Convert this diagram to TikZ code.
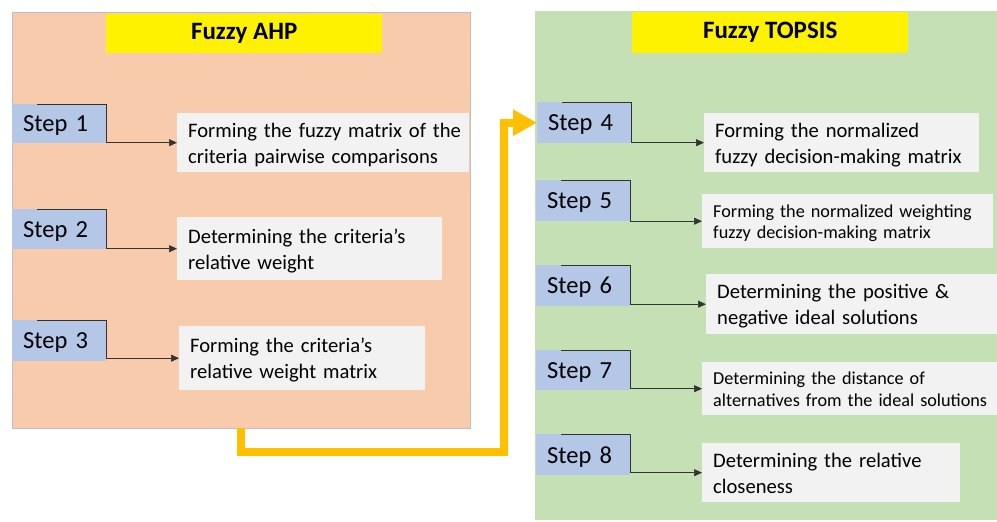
\documentclass[tikz,border=0pt]{standalone}
\usepackage{fontspec}
\setmainfont{Carlito}
\usetikzlibrary{arrows.meta}
\definecolor{ahpfill}{HTML}{F8CBAD}
\definecolor{topsisfill}{HTML}{C5E0B4}
\definecolor{stepblue}{HTML}{B4C7E7}
\definecolor{boxgray}{HTML}{F2F2F2}
\definecolor{flowyellow}{HTML}{FFC000}
\hyphenpenalty=10000
\begin{document}
\begin{tikzpicture}[x=1pt,y=-1pt,
  panel/.style={anchor=north west,inner sep=0pt},
  title/.style={fill=yellow,anchor=north west,inner sep=0pt,minimum width=276pt,font=\fontsize{25}{30}\selectfont\bfseries},
  stepbox/.style={fill=stepblue,anchor=north west,minimum width=94pt,minimum height=40pt,text width=72pt,text depth=0pt,inner xsep=11pt,inner ysep=0pt,align=left,font=\fontsize{24.5}{29}\selectfont},
  txt/.style={fill=boxgray,anchor=north west,inner xsep=11pt,inner ysep=0pt,text depth=25pt,align=left,font=\fontsize{20.6}{25.8}\selectfont},
  small/.style={text depth=20.5pt,font=\fontsize{18.2}{21.7}\selectfont},
  link/.style={draw=black!80,line width=0.7pt,-{Triangle[length=8pt,width=7pt]}},
  flow/.style={draw=flowyellow,line width=8pt,line join=miter,-{Triangle[length=24pt,width=25pt]}}]
  \useasboundingbox (0,0) rectangle (997,522);
  \node[panel,fill=ahpfill,draw=black!25,minimum width=458pt,minimum height=416pt] (ahp) at (12,12) {};
  \node[panel,fill=topsisfill,minimum width=462pt,minimum height=509pt] (topsis) at (535,11) {};
  \node[title,minimum height=39pt] (ahptitle) at (106,14) {Fuzzy AHP};
  \node[title,minimum height=41pt] (topsistitle) at (632,12) {Fuzzy TOPSIS};

  \node[stepbox,minimum height=39pt] (s1) at (12,104) {Step 1};
  \node[stepbox] (s2) at (12,209) {Step 2};
  \node[stepbox,minimum height=41pt] (s3) at (12,320) {Step 3};
  \node[stepbox,minimum height=41pt] (s4) at (537,102) {Step 4};
  \node[stepbox,minimum height=41pt] (s5) at (536,180) {Step 5};
  \node[stepbox,minimum height=41pt] (s6) at (536,265) {Step 6};
  \node[stepbox] (s7) at (536,350) {Step 7};
  \node[stepbox,minimum height=41pt] (s8) at (536,434) {Step 8};

  \node[txt,minimum height=59pt,text width=270pt] (t1) at (177,113) {\mbox{Forming the fuzzy matrix of the}\\\mbox{criteria pairwise comparisons}};
  \node[txt,minimum height=63pt,text width=243pt] (t2) at (177,217) {\mbox{Determining the criteria’s}\\\mbox{relative weight}};
  \node[txt,minimum height=64pt,text width=224pt] (t3) at (179,326) {\mbox{Forming the criteria’s}\\\mbox{relative weight matrix}};
  \node[txt,minimum height=59pt,text width=253pt] (t4) at (704,113) {\mbox{Forming the normalized}\\\mbox{fuzzy decision-making matrix}};
  \node[txt,small,minimum height=54pt,text width=269pt] (t5) at (702,194) {\mbox{Forming the normalized weighting}\\\mbox{fuzzy decision-making matrix}};
  \node[txt,minimum height=60pt,text width=269pt] (t6) at (706,274) {\mbox{Determining the positive \&}\\\mbox{negative ideal solutions}};
  \node[txt,small,minimum height=53pt,text width=273pt] (t7) at (702,362) {\mbox{Determining the distance of}\\\mbox{alternatives from the ideal solutions}};
  \node[txt,minimum height=59pt,text width=236pt] (t8) at (702,443) {\mbox{Determining the relative}\\\mbox{closeness}};

  \foreach \i in {1,...,8}
    \draw[link] ([xshift=25pt]s\i.north west) -| (s\i.east |- t\i.west) -- (t\i.west);

  \coordinate (drop) at (241,452);
  \coordinate (rise) at (504,452);
  \draw[flow] (ahp.south -| drop) -- (drop) -- (rise) |- (s4.west);
\end{tikzpicture}
\end{document}
